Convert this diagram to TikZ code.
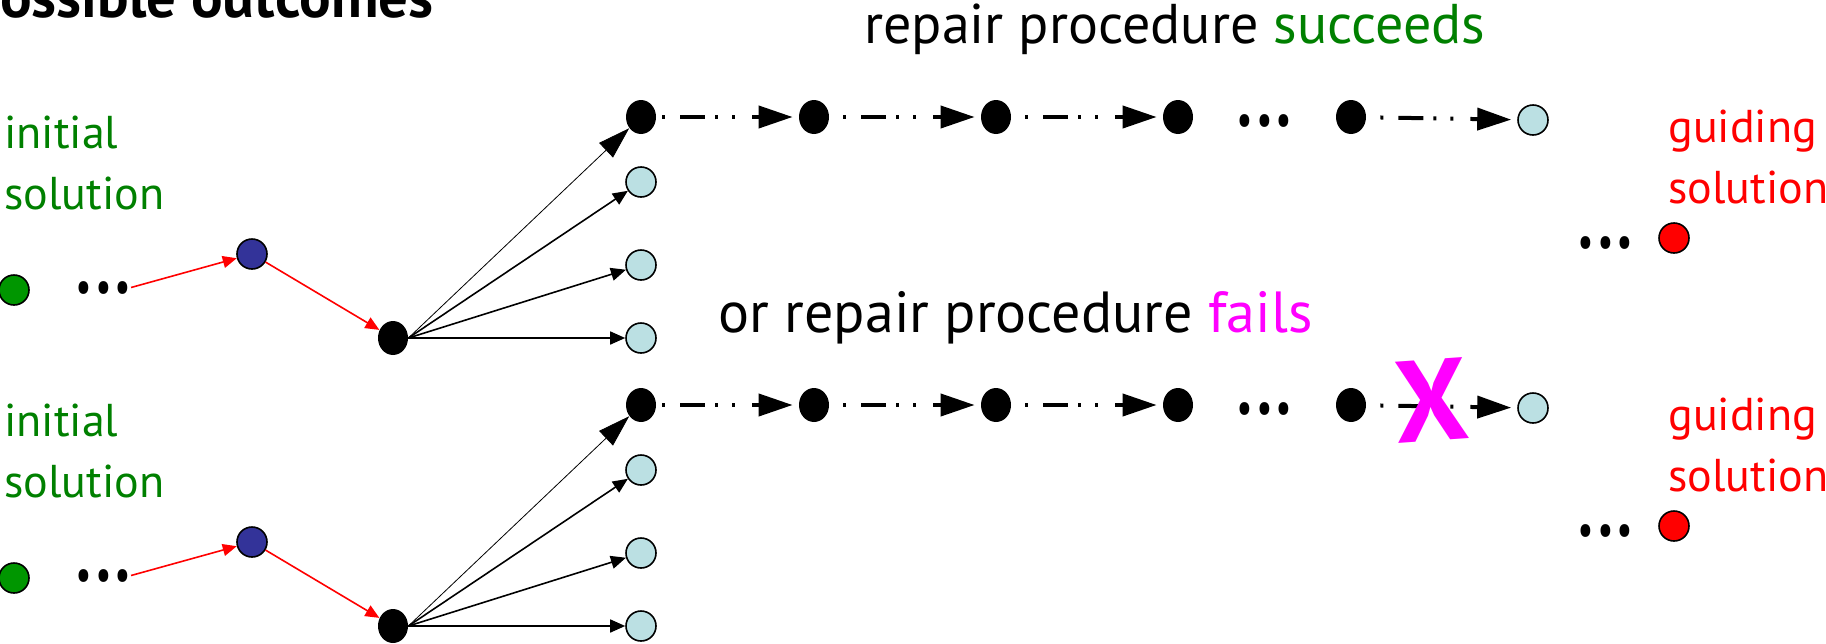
\documentclass[tikz,border=0pt]{standalone}
\usepackage{fontspec}
\setmainfont{PT Sans}
\usetikzlibrary{arrows.meta,shapes.geometric}
\definecolor{solgreen}{RGB}{0,150,0}
\definecolor{txtgreen}{RGB}{0,128,0}
\definecolor{navy}{RGB}{51,51,153}
\definecolor{paleblue}{RGB}{187,224,227}
\definecolor{fuchsia}{RGB}{255,0,255}
\newcommand{\moredots}{\scalebox{1}[1.4]{.\kern2.5pt.\kern2.5pt.}}
\tikzset{
  snode/.style={circle,draw=black,line width=0.8pt,minimum size=15pt,inner sep=0pt},% coloured solution
  lnode/.style={snode,fill=paleblue},                                             % neighbour
  bnode/.style={ellipse,fill=black,minimum width=15pt,minimum height=17pt,inner sep=0pt},
  more/.style={font=\fontsize{30}{30}\selectfont\bfseries,inner sep=0pt,anchor=base west},
  tag/.style={align=left,font=\fontsize{23}{30.5}\selectfont,inner sep=0pt,anchor=north west},
  say/.style={font=\fontsize{28}{32}\selectfont,inner sep=0pt,anchor=base west},
  redarr/.style={-{Triangle[length=7pt,width=6pt]},red,line width=0.8pt},
  fan/.style={-{Triangle[length=7.5pt,width=6.5pt]},line width=0.8pt},
  fanthin/.style={-{Triangle[length=16pt,width=10pt]},line width=0.4pt},
  chain/.style={-{Triangle[length=17pt,width=11pt]},line width=2pt,shorten >=3pt,
    dash pattern=on 1.5pt off 7.5pt on 12.5pt off 5pt on 1.5pt off 7pt on 1.5pt off 8.5pt on 8pt off 1pt},
}
\begin{document}
\begin{tikzpicture}[x=0.5pt,y=-0.5pt]
  \useasboundingbox (0,0) rectangle (1826,643);
  \node[font=\fontsize{29.5}{32}\selectfont\bfseries,inner sep=0pt,anchor=base east] (head) at (434,17) {Possible outcomes};
  \node[say] (succ) at (864,43) {repair procedure \textcolor{txtgreen}{succeeds}};
  \node[say,font=\fontsize{29}{32}\selectfont] (fail) at (718,332) {or repair procedure \textcolor{fuchsia}{fails}};
  % one row per outcome
  \foreach \r/\dy in {t/0,b/288}{
    \begin{scope}[shift={(0,\dy)}]
      \node[tag,txtgreen] (init\r) at (4,116) {initial\\solution};
      \node[snode,fill=solgreen] (start\r) at (14,290) {};
      \node[more] (dots\r) at (76,293) {\moredots};
      \node[snode,fill=navy] (mid\r) at (252,254) {};
      \node[bnode] (fork\r) at (393,338) {};
      \node[bnode] (c1\r) at (641,117) {};
      \node[lnode] (n1\r) at (641,182) {};
      \node[lnode] (n2\r) at (641,265) {};
      \node[lnode] (n3\r) at (641,338) {};
      \node[bnode] (c2\r) at (814,117) {};
      \node[bnode] (c3\r) at (996,117) {};
      \node[bnode] (c4\r) at (1178,117) {};
      \node[more] (skip\r) at (1237,126) {\moredots};
      \node[bnode] (c5\r) at (1351,117) {};
      \node[lnode] (end\r) at (1533,120) {};
      \node[more] (gap\r) at (1578,248) {\moredots};
      \node[snode,fill=red] (guide\r) at (1674,238) {};
      \node[tag,red] (gsol\r) at (1668,110) {guiding\\solution};
      \draw[redarr] (dots\r.east) -- (mid\r);
      \draw[redarr] (mid\r) -- (fork\r);
      \draw[fanthin] (fork\r.east) -- (c1\r);
      \foreach \n in {n1,n2,n3} \draw[fan] (fork\r.east) -- (\n\r);
      \draw[chain,shorten <=3pt] (c1\r) -- (c2\r);
      \foreach \a/\b in {c2/c3,c3/c4,c5/end} \draw[chain,shorten <=7pt] (\a\r) -- (\b\r);
    \end{scope}
  }
  \node[font=\fontsize{58}{58}\selectfont\bfseries,text=fuchsia,inner sep=0pt,rotate=4] (cross) at (1431,400) {X};
\end{tikzpicture}
\end{document}
